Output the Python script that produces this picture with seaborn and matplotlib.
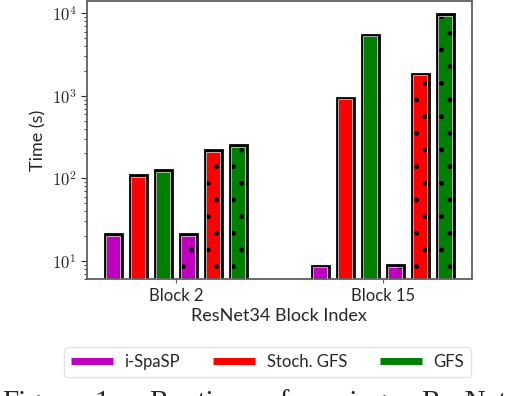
import numpy as np
import pandas as pd
import matplotlib
matplotlib.use("Agg")
import matplotlib.pyplot as plt
import seaborn as sns
from matplotlib.lines import Line2D
from matplotlib.patches import Rectangle
from matplotlib.ticker import FuncFormatter, LogLocator
from matplotlib.transforms import IdentityTransform

blocks = ["Block 2", "Block 15"]
methods = ["i-SpaSP", "Stoch. GFS", "GFS"]
colors = ["#bf00bf", "#ff0000", "#008000"]

# runtime in seconds (plain bars, then dotted bars)
plain_block2 = [21, 109, 125]
plain_block15 = [8.7, 945, 5470]
dotted_block2 = [21, 218, 251]
dotted_block15 = [8.8, 1845, 9720]

caption_words = ["Figure", "1:", "Runtime", "of", "pruning", "ResNet34"]


def main():
    rows = []
    for block, plain, dotted in [("Block 2", plain_block2, dotted_block2),
                                 ("Block 15", plain_block15, dotted_block15)]:
        for m, v in zip(methods, plain):
            rows.append({"block": block, "variant": m, "time": v})
        for m, v in zip(methods, dotted):
            rows.append({"block": block, "variant": m + " (dots)", "time": v})
    df = pd.DataFrame(rows)
    variants = methods + [m + " (dots)" for m in methods]
    palette = dict(zip(variants, colors + colors))

    sns.set_style("ticks")
    plt.rcParams["font.family"] = ["Lato", "DejaVu Sans"]
    plt.rcParams["mathtext.fontset"] = "cm"
    plt.rcParams["hatch.linewidth"] = 1.0

    fig = plt.figure(figsize=(5.08, 3.96), dpi=100)
    ax = fig.add_axes([0.171, 0.295, 0.758, 0.702])

    sns.barplot(data=df, x="block", y="time", hue="variant", hue_order=variants,
                order=blocks, palette=palette, width=0.725, gap=0.32,
                errorbar=None, legend=False, saturation=1, ax=ax)

    ax.set_yscale("log")
    ax.set_ylim(6.0, 14000)
    ax.set_xlim(-0.43, 1.43)
    ax.yaxis.set_major_locator(LogLocator(base=10))
    ax.yaxis.set_major_formatter(FuncFormatter(lambda v, p: r"$10^{%d}$" % round(np.log10(v))))

    for i, cont in enumerate(ax.containers):
        for p in cont:
            p.set_edgecolor("black")
            p.set_linewidth(2.0)
            if i >= 3:
                p.set_hatch(".")

    ax.set_xlabel("ResNet34 Block Index", fontsize=13, labelpad=3)
    ax.set_ylabel("Time (s)", fontsize=13, labelpad=4)
    ax.tick_params(axis="x", labelsize=12, length=3, color="#666666")
    ax.tick_params(axis="y", which="major", labelsize=12, length=4)
    ax.tick_params(axis="y", which="minor", length=2)
    for s in ax.spines.values():
        s.set_visible(True)
        s.set_color("#606060")
        s.set_linewidth(1.3)

    # thin light line just inside each bar outline
    for p in list(ax.patches):
        x0, w = p.get_x(), p.get_width()
        y1 = p.get_y() + p.get_height()
        (dx0, dy0) = ax.transData.transform((x0, 1.0))
        (dx1, dy1) = ax.transData.transform((x0 + w, y1))
        inset = 1.5
        r = Rectangle((dx0 + inset, dy0), dx1 - dx0 - 2 * inset, dy1 - dy0 - inset,
                      transform=IdentityTransform(), fill=False,
                      edgecolor="#c8c8c8", linewidth=0.6, zorder=5)
        ax.add_artist(r)
        r.set_clip_box(ax.bbox)

    handles = [Line2D([0], [0], color=c, lw=5, solid_capstyle="butt") for c in colors]
    ax.legend(handles, methods, loc="center", bbox_to_anchor=(0.527, 0.086),
              bbox_transform=fig.transFigure, ncol=3, fontsize=12,
              handlelength=2.5, handletextpad=0.7, columnspacing=2.0,
              frameon=True, fancybox=True, edgecolor="#dddddd", borderpad=0.4)

    # caption of the paper figure, cut off by the page crop
    word_x = [2, 94, 149, 266, 297, 421]
    for wx, word in zip(word_x, caption_words):
        fig.text(wx / 508, -0.036, word, family="Liberation Serif", fontsize=21,
                 va="baseline")

    fig.savefig("out.png", dpi=100)
    plt.close(fig)


if __name__ == "__main__":
    main()
